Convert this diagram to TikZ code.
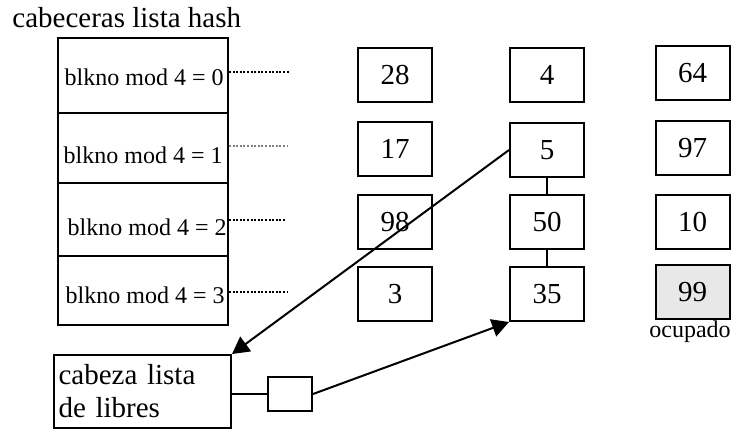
\documentclass[tikz,border=0pt]{standalone}
\usepackage{fontspec}
\setmainfont{Liberation Serif}
\usetikzlibrary{arrows.meta}
\newcommand{\bigfont}{\fontsize{14.5}{16.5}\selectfont}
\newcommand{\midfont}{\fontsize{12}{14}\selectfont}
\begin{document}
\begin{tikzpicture}[x=0.5pt,y=-0.5pt,
    hrow/.style={draw,line width=1pt,minimum width=85pt,inner sep=0pt},
    cell/.style={draw,line width=1pt,minimum width=37pt,minimum height=27pt,inner sep=0pt,font=\bigfont},
    stub/.style={line width=1pt,dash pattern=on 1pt off 0.8pt},
    arr/.style={line width=1pt,-{Triangle[length=8.5pt,width=9pt]}}]
    \useasboundingbox (0,0) rectangle (731,430);
    %% Title
    \node[anchor=base west,inner sep=0pt,font=\bigfont] (title) at (12,27) {cabeceras lista hash};
    %% Hash headers
    \node[hrow,minimum height=37.5pt] (h0) at (143,75.5) {};
    \node[hrow,minimum height=35pt] (h1) at (143,148) {};
    \node[hrow,minimum height=36.5pt] (h2) at (143,219.5) {};
    \node[hrow,minimum height=34.5pt] (h3) at (143,290.5) {};
    \node[anchor=base east,inner sep=0pt,font=\midfont] (l0) at (224,85) {blkno mod 4 = 0};
    \node[anchor=base east,inner sep=0pt,font=\midfont] (l1) at (223,163) {blkno mod 4 = 1};
    \node[anchor=base east,inner sep=0pt,font=\midfont] (l2) at (227,235) {blkno mod 4 = 2};
    \node[anchor=base east,inner sep=0pt,font=\midfont] (l3) at (225,303) {blkno mod 4 = 3};
    %% dotted stubs
    \coordinate (d0) at (290,72);
    \coordinate (d1) at (287,146);
    \coordinate (d2) at (285,220);
    \coordinate (d3) at (287,292);
    \draw[stub] (d0 -| h0.east) -- (d0);
    \draw[stub,line width=0.6pt,gray] (d1 -| h1.east) -- (d1);
    \draw[stub,line width=0.8pt] (d2 -| h2.east) -- (d2);
    \draw[stub] (d3 -| h3.east) -- (d3);
    %% Buffers
    \foreach \n/\x/\y in {28/395/74.5,17/395/148.5,98/395/222,3/395/294,
        4/547/74.5,5/547/150,50/547/222,35/547/294,
        64/692.5/73,97/692.5/148,10/692.5/221.5}
        \node[cell] (n\n) at (\x,\y) {\n};
    \node[cell,fill=black!9] (n99) at (692.5,292) {99};
    \node[anchor=base west,inner sep=0pt,font=\midfont] (busy) at (649,337) {ocupado};
    \draw[line width=1pt] (n5.south) -- (n50.north);
    \draw[line width=1pt] (n50.south) -- (n35.north);
    %% Free list
    \node[draw,line width=1pt,minimum width=88.5pt,minimum height=36.5pt,text width=84pt,
        inner sep=2pt,align=left,font=\bigfont] (cab) at (142.5,391.5) {cabeza lista\\de libres};
    \node[draw,line width=1pt,minimum width=22pt,minimum height=17pt,inner sep=0pt] (free) at (290,394) {};
    \draw[line width=1pt] (free.west) -- (free.west -| cab.east);
    \draw[arr] (n5.west) -- (cab.north east);
    \draw[arr] (free.east) -- (n35.south west);
\end{tikzpicture}
\end{document}
